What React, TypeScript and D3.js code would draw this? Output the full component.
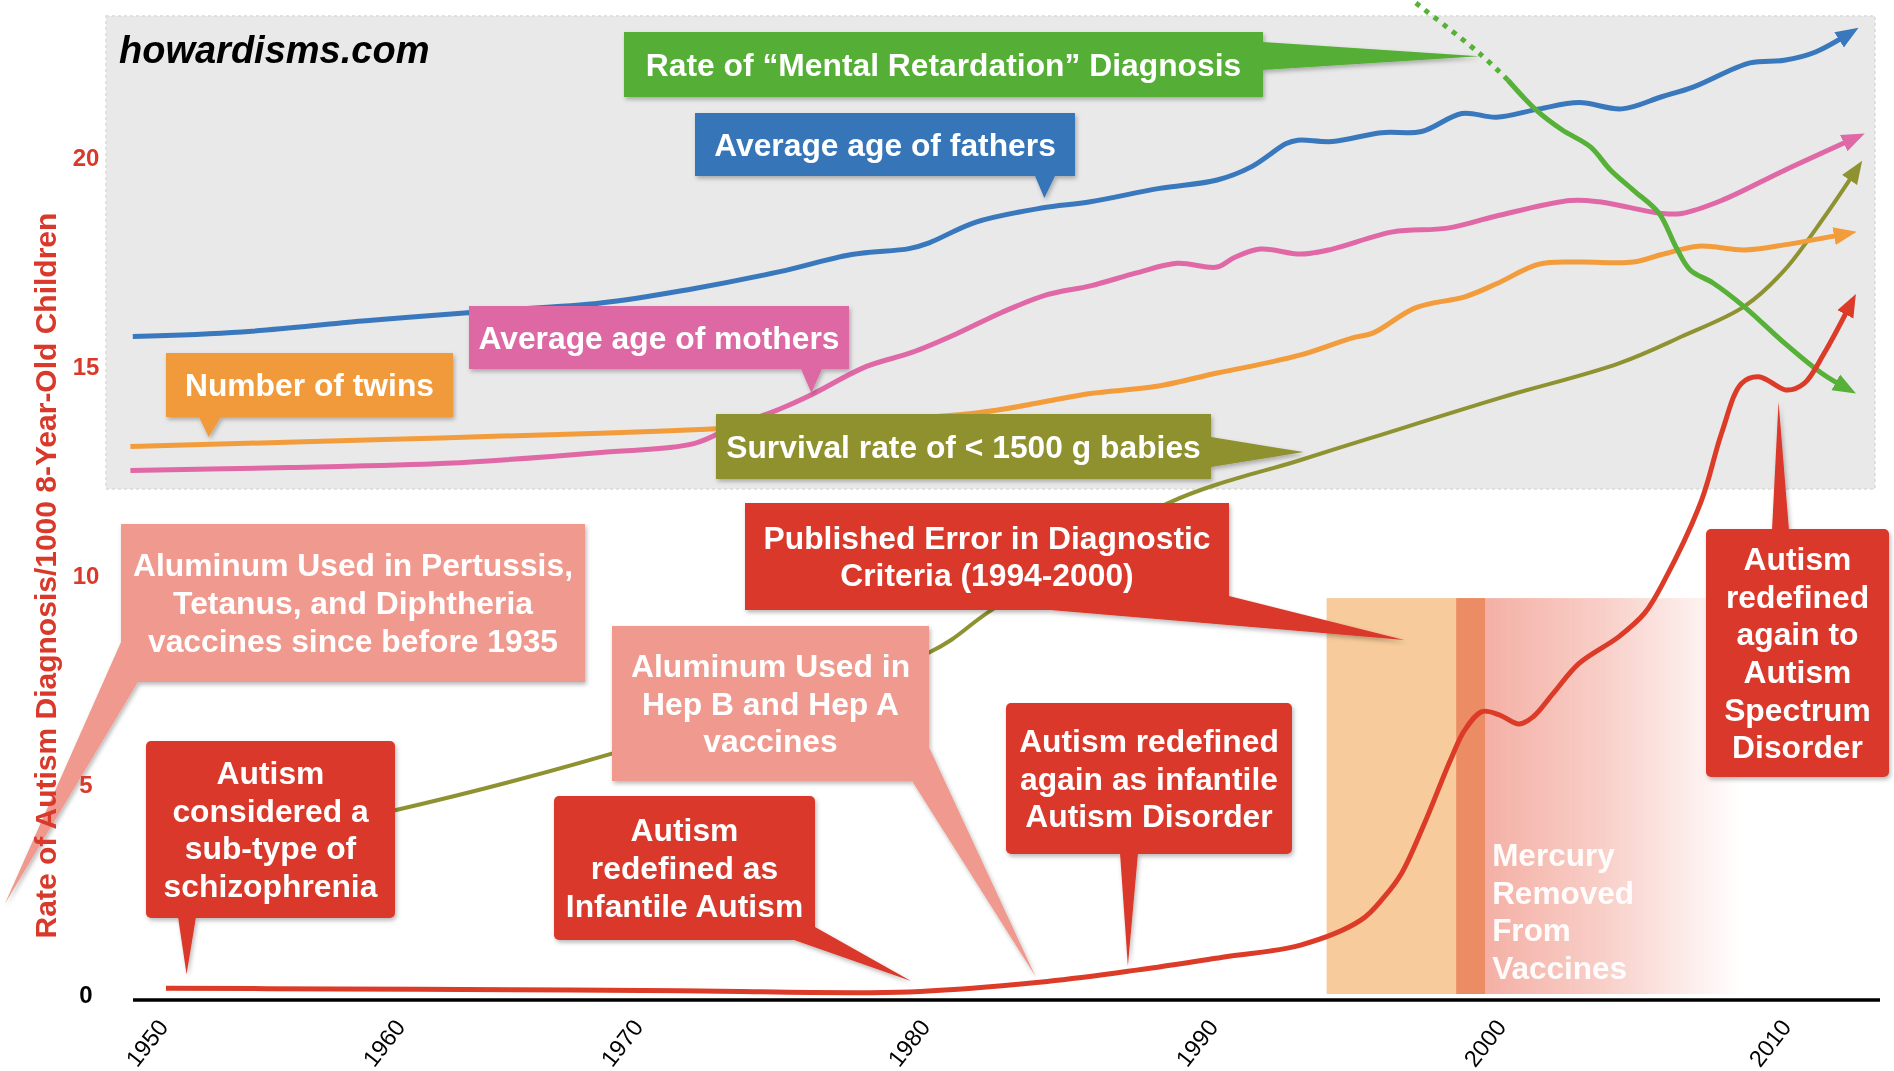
import React from 'react';
import * as d3 from 'd3';

const W = 1894;
const H = 1071;

// ---- axes ----
const xTickYears = [1950, 1960, 1970, 1980, 1990, 2000, 2010];
const yTickValues = [0, 5, 10, 15, 20];

// ---- series (year, value on the left scale) ----
const fathersYears = [1949.4, 1954.0, 1959.1, 1964.2, 1969.1, 1972.3, 1975.5, 1978.0, 1980.0, 1980.7, 1982.3, 1984.6, 1986.3, 1988.7, 1990.7, 1991.9, 1993.1, 1993.5, 1994.7, 1996.4, 1997.8, 1999.2, 2000.4, 2001.9, 2003.3, 2004.8, 2006.2, 2007.3, 2009.3, 2010.5, 2011.6, 2012.9];
const fathersValues = [15.71, 15.82, 16.08, 16.31, 16.51, 16.83, 17.26, 17.67, 17.81, 17.95, 18.44, 18.78, 18.93, 19.25, 19.45, 19.77, 20.32, 20.40, 20.37, 20.58, 20.61, 21.04, 20.95, 21.15, 21.30, 21.15, 21.44, 21.67, 22.25, 22.31, 22.51, 23.0];

const mothersYears = [1949.3, 1956.0, 1962.6, 1969.1, 1972.5, 1973.9, 1975.5, 1976.6, 1978.5, 1980.1, 1981.6, 1983.2, 1984.8, 1986.3, 1987.9, 1989.3, 1990.7, 1991.3, 1992.2, 1993.6, 1994.7, 1996.8, 1998.7, 2000.4, 2003.0, 2004.0, 2006.2, 2006.9, 2008.3, 2010.5, 2013.1];
const mothersValues = [12.51, 12.58, 12.68, 12.94, 13.15, 13.57, 13.98, 14.32, 14.99, 15.33, 15.76, 16.28, 16.71, 16.92, 17.23, 17.46, 17.37, 17.60, 17.80, 17.68, 17.80, 18.21, 18.30, 18.59, 18.96, 18.93, 18.65, 18.65, 18.96, 19.68, 20.49];

const twinsYears = [1949.3, 1960.0, 1969.1, 1972.7, 1977.5, 1982.4, 1984.7, 1986.3, 1988.6, 1990.7, 1991.8, 1993.6, 1995.4, 1996.1, 1997.6, 1999.3, 2000.4, 2001.9, 2003.3, 2005.2, 2006.2, 2007.5, 2009.1, 2010.5, 2012.8];
const twinsValues = [13.08, 13.25, 13.40, 13.49, 13.65, 13.89, 14.15, 14.35, 14.52, 14.84, 14.99, 15.27, 15.68, 15.79, 16.40, 16.66, 16.97, 17.44, 17.49, 17.49, 17.67, 17.87, 17.78, 17.90, 18.18];

const survivalYears = [1955.0, 1960.6, 1969.5, 1980.7, 1982.9, 1989.0, 1993.6, 1996.1, 2000.5, 2004.7, 2006.9, 2009.1, 2010.5, 2011.9, 2013.1];
const survivalValues = [3.78, 4.41, 5.73, 8.16, 9.19, 11.73, 12.76, 13.30, 14.24, 15.07, 15.71, 16.43, 17.29, 18.56, 19.77];

const retardationYears = [1997.6, 1999.8, 2000.8, 2001.8, 2002.7, 2003.7, 2004.4, 2005.2, 2006.1, 2006.7, 2007.2, 2008.0, 2009.1, 2010.5, 2011.8, 2012.8];
const retardationValues = [23.68, 22.48, 21.84, 21.12, 20.65, 20.24, 19.69, 19.21, 18.66, 17.85, 17.30, 16.99, 16.42, 15.56, 14.84, 14.43];
const retardationDottedUntil = 2000.8;

const autismYears = [1950.8, 1958.0, 1965.3, 1972.0, 1980.0, 1984.8, 1987.9, 1991.0, 1993.6, 1995.7, 1996.5, 1997.1, 1997.9, 1998.8, 1999.3, 1999.9, 2000.5, 2001.2, 2001.7, 2002.4, 2003.3, 2004.7, 2005.6, 2006.3, 2007.6, 2008.3, 2009.0, 2009.6, 2010.6, 2011.2, 2011.9, 2012.9];
const autismValues = [0.14, 0.12, 0.10, 0.08, 0.05, 0.30, 0.57, 0.89, 1.17, 1.77, 2.32, 2.88, 4.08, 5.59, 6.31, 6.75, 6.67, 6.45, 6.63, 7.19, 7.90, 8.54, 9.10, 9.89, 11.80, 13.40, 14.59, 14.75, 14.43, 14.59, 15.31, 16.58];

// ---- shaded periods ----
const errorPeriod = [1994.5, 2000];
const mercuryPeriod = [1999, 2009];
const periodTop = 9.46;

const FONT = '"Liberation Sans", Arial, Helvetica, sans-serif';
const RED = '#d9392a';

type Callout = {
  lines: string[];
  fill: string;
  box: [number, number, number, number];
  base: [number, number][];
  tip: [number, number];
  rx: number;
};

const callouts: Callout[] = [
  { lines: ['Rate of \u201CMental Retardation\u201D Diagnosis'], fill: '#55ae34', box: [624, 32, 1263, 97], base: [[1263, 42], [1263, 70]], tip: [1999.8, 22.41], rx: 0 },
  { lines: ['Average age of fathers'], fill: '#3574b8', box: [695, 113, 1075, 176], base: [[1035, 176], [1055, 176]], tip: [1984.7, 19.02], rx: 0 },
  { lines: ['Average age of mothers'], fill: '#dd67a3', box: [469, 306, 849, 369], base: [[801, 369], [822, 369]], tip: [1976.6, 14.36], rx: 0 },
  { lines: ['Number of twins'], fill: '#f09a3a', box: [166, 353, 453, 417], base: [[199, 417], [221, 417]], tip: [1952.6, 13.31], rx: 0 },
  { lines: ['Survival rate of < 1500 g babies'], fill: '#8f902e', box: [716, 414, 1211, 479], base: [[1211, 437], [1211, 467]], tip: [1993.7, 12.95], rx: 0 },
  { lines: ['Aluminum Used in Pertussis,', 'Tetanus, and Diphtheria', 'vaccines since before 1935'], fill: '#f09a8f', box: [121, 524, 585, 682], base: [[121, 642], [138, 682]], tip: [1944.0, 2.15], rx: 0 },
  { lines: ['Aluminum Used in', 'Hep B and Hep A', 'vaccines'], fill: '#f09a8f', box: [612, 626, 929, 781], base: [[929, 747], [912, 781]], tip: [1984.4, 0.41], rx: 0 },
  { lines: ['Autism', 'considered a', 'sub-type of', 'schizophrenia'], fill: RED, box: [146, 741, 395, 918], base: [[178, 917], [196, 917]], tip: [1951.67, 0.47], rx: 5 },
  { lines: ['Autism', 'redefined as', 'Infantile Autism'], fill: RED, box: [554, 796, 815, 940], base: [[815, 927], [794, 940]], tip: [1980.07, 0.31], rx: 5 },
  { lines: ['Published Error in Diagnostic', 'Criteria (1994-2000)'], fill: RED, box: [745, 503, 1229, 610], base: [[1229, 596], [1050, 610]], tip: [1997.2, 8.46], rx: 0 },
  { lines: ['Autism redefined', 'again as infantile', 'Autism Disorder'], fill: RED, box: [1006, 703, 1292, 854], base: [[1120, 853], [1138, 853]], tip: [1987.6, 0.67], rx: 5 },
  { lines: ['Autism', 'redefined', 'again to', 'Autism', 'Spectrum', 'Disorder'], fill: RED, box: [1706, 529, 1889, 777], base: [[1772, 530], [1789, 530]], tip: [2010.3, 14.15], rx: 5 },
];

const mercuryLines = ['Mercury', 'Removed', 'From', 'Vaccines'];

export default function App() {
  const x = d3.scaleLinear().domain(xTickYears).range([147, 384, 622, 909, 1197, 1485, 1770]);
  const y = d3.scaleLinear().domain([0, 20]).range([994, 157]);
  const line = d3
    .line<[number, number]>()
    .x((d) => x(d[0]))
    .y((d) => y(d[1]))
    .curve(d3.curveCatmullRom.alpha(0.5));
  const zip = (a: number[], b: number[]) => a.map((v, i) => [v, b[i]] as [number, number]);

  const mrAll = zip(retardationYears, retardationValues);
  const mrDotted = mrAll.filter((d) => d[0] <= retardationDottedUntil);
  const mrSolid = mrAll.filter((d) => d[0] >= retardationDottedUntil);

  const series = [
    { id: 'olive', pts: zip(survivalYears, survivalValues), color: '#8e9231', w: 4 },
    { id: 'orange', pts: zip(twinsYears, twinsValues), color: '#f29c3c', w: 5 },
    { id: 'pink', pts: zip(mothersYears, mothersValues), color: '#e068a6', w: 5 },
    { id: 'blue', pts: zip(fathersYears, fathersValues), color: '#3a78be', w: 5 },
    { id: 'green', pts: mrSolid, color: '#57b138', w: 5 },
    { id: 'red', pts: zip(autismYears, autismValues), color: '#dc3b28', w: 5 },
  ];

  const lh = 37.7;
  const fs = 31.8;

  return (
    <svg
      width={W}
      height={H}
      viewBox={`0 0 ${W} ${H}`}
      style={{ position: 'absolute', left: 0, top: 0, background: '#ffffff', fontFamily: FONT }}
    >
      <defs>
        <filter id="shadow" x="-10%" y="-10%" width="130%" height="130%">
          <feDropShadow dx="1.5" dy="2.5" stdDeviation="2" floodColor="#000" floodOpacity="0.28" />
        </filter>
        <linearGradient id="mercuryGrad" gradientUnits="userSpaceOnUse" x1={x(2000)} x2={x(mercuryPeriod[1])} y1={0} y2={0}>
          <stop offset="0" stopColor="#f4b0a5" stopOpacity={1} />
          <stop offset="0.45" stopColor="#f4b0a5" stopOpacity={0.62} />
          <stop offset="1" stopColor="#f4b0a5" stopOpacity={0} />
        </linearGradient>
        {series.map((s) => (
          <marker
            key={s.id}
            id={`arrow-${s.id}`}
            viewBox="0 0 24 24"
            refX={16}
            refY={12}
            markerWidth={24}
            markerHeight={24}
            markerUnits="userSpaceOnUse"
            orient="auto"
          >
            <path d="M0,3 L23,12 L0,21 Z" fill={s.color} />
          </marker>
        ))}
      </defs>

      {/* grey panel */}
      <rect x={106} y={16} width={1769} height={473} fill="#e9e9e9" stroke="#dadada" strokeWidth={1.5} strokeDasharray="3 3" />

      {/* shaded periods */}
      <rect
        x={x(errorPeriod[0])}
        y={y(periodTop)}
        width={x(errorPeriod[1]) - x(errorPeriod[0])}
        height={y(0) - y(periodTop)}
        fill="#f7cb9b"
      />
      <rect
        x={x(mercuryPeriod[0])}
        y={y(periodTop)}
        width={x(mercuryPeriod[1]) - x(mercuryPeriod[0])}
        height={y(0) - y(periodTop)}
        fill="url(#mercuryGrad)"
        style={{ mixBlendMode: 'multiply' }}
      />

      {/* lines */}
      <path d={line(mrDotted) || ''} fill="none" stroke="#57b138" strokeWidth={5} strokeDasharray="5 6.5" />
      {series.map((s) => (
        <path
          key={s.id}
          d={line(s.pts) || ''}
          fill="none"
          stroke={s.color}
          strokeWidth={s.w}
          strokeLinejoin="round"
          markerEnd={`url(#arrow-${s.id})`}
        />
      ))}

      {/* mercury text */}
      <text fill="#ffffff" fontWeight="bold" fontSize={31.5} fillOpacity={0.95}>
        {mercuryLines.map((l, i) => (
          <tspan key={i} x={x(2000.25)} y={866 + i * 37.5}>
            {l}
          </tspan>
        ))}
      </text>

      {/* x axis */}
      <line x1={133} x2={1880} y1={y(0) + 6} y2={y(0) + 6} stroke="#000" strokeWidth={3.5} />
      {xTickYears.map((yr) => (
        <text
          key={yr}
          transform={`translate(${x(yr)},1043) rotate(-52)`}
          textAnchor="middle"
          dominantBaseline="central"
          fontSize={23.5}
          fill="#000"
        >
          {yr}
        </text>
      ))}

      {/* callouts */}
      {callouts.map((c, ci) => {
        const [x0, y0, x1, y1] = c.box;
        const tip: [number, number] = [x(c.tip[0]), y(c.tip[1])];
        const poly = [c.base[0], tip, c.base[1]];
        const cx = (x0 + x1) / 2;
        const cy = (y0 + y1) / 2;
        const first = cy - ((c.lines.length - 1) / 2) * lh + fs * 0.35;
        return (
          <g key={ci}>
            <g filter="url(#shadow)">
              <rect x={x0} y={y0} width={x1 - x0} height={y1 - y0} rx={c.rx} fill={c.fill} />
              <path d={'M' + poly.map((p) => p.join(',')).join('L') + 'Z'} fill={c.fill} />
            </g>
            <text fill="#ffffff" fontWeight="bold" fontSize={fs} textAnchor="middle">
              {c.lines.map((l, i) => (
                <tspan key={i} x={cx} y={first + i * lh}>
                  {l}
                </tspan>
              ))}
            </text>
          </g>
        );
      })}

      {/* y axis (drawn above the callout pointers) */}
      {yTickValues.map((v) => (
        <text
          key={v}
          x={86}
          y={y(v)}
          textAnchor="middle"
          dominantBaseline="central"
          fontSize={24}
          fontWeight="bold"
          fill={v === 0 ? '#000' : RED}
        >
          {v}
        </text>
      ))}
      <text
        transform="translate(45,575.5) rotate(-90)"
        textAnchor="middle"
        dominantBaseline="central"
        fontSize={30}
        fontWeight="bold"
        fill={RED}
      >
        Rate of Autism Diagnosis/1000 8-Year-Old Children
      </text>

      {/* watermark */}
      <text x={119} y={63} fontSize={38} fontWeight="bold" fontStyle="italic" fill="#000">
        howardisms.com
      </text>
    </svg>
  );
}
